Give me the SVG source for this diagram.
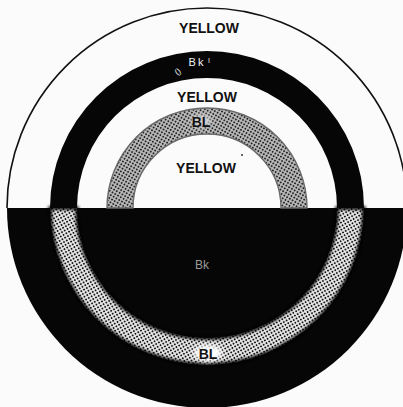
<svg xmlns="http://www.w3.org/2000/svg" width="403" height="407" viewBox="0 0 403 407">
  <defs>
    <pattern id="stipTop" width="3.2" height="3.2" patternUnits="userSpaceOnUse" patternTransform="rotate(30)">
      <rect width="3.2" height="3.2" fill="#bcbcbc"/>
      <circle cx="1.6" cy="1.6" r="1" fill="#222"/>
    </pattern>
    <pattern id="stipBot" width="3.2" height="3.2" patternUnits="userSpaceOnUse" patternTransform="rotate(-30)">
      <rect width="3.2" height="3.2" fill="#ececec"/>
      <circle cx="1.6" cy="1.6" r="1" fill="#141414"/>
    </pattern>
    <filter id="soft" x="-10%" y="-10%" width="120%" height="120%">
      <feGaussianBlur stdDeviation="1.8"/>
    </filter>
    <filter id="halo" x="-30%" y="-30%" width="160%" height="160%">
      <feGaussianBlur stdDeviation="2.5"/>
    </filter>
  </defs>
  <style>
    .lbl { font-family: "Liberation Sans", Arial, sans-serif; font-weight: bold; font-size: 14px; fill: #111; text-anchor: middle; }
    .blk { fill: #060606; }
    .wt { font-family: "Liberation Sans", Arial, sans-serif; fill: #f4f4f4; }
  </style>

  <rect width="403" height="407" fill="#fbfbfb"/>

  <g id="lower-half">
    <path class="blk" d="M7,208 A200,200 0 0 0 407,208 Z"/>
    <path d="M50,208 A157,157 0 0 0 364,208 L337,208 A130,130 0 0 1 77,208 Z" fill="url(#stipBot)"/>
    <path d="M50,208 A157,157 0 0 0 364,208 L337,208 A130,130 0 0 1 77,208 Z" fill="none" stroke="#060606" stroke-width="3.5" filter="url(#soft)"/>
    <ellipse cx="208" cy="353" rx="14" ry="8" fill="#ffffff" filter="url(#halo)"/>
  </g>

  <g id="upper-outer-yellow">
    <path d="M7,208 A200,200 0 0 1 407,208" fill="none" stroke="#111" stroke-width="1.6"/>
    <text class="lbl" x="209" y="33">YELLOW</text>
  </g>

  <g id="upper-black-ring">
    <path class="blk" d="M50,208 A157,157 0 0 1 364,208 L337,208 A130,130 0 0 0 77,208 Z"/>
    <text class="wt" x="197" y="66" font-size="11" text-anchor="middle" letter-spacing="2">Bk</text>
    <text class="wt" x="208" y="63" font-size="7">I</text>
    <text class="wt" x="178" y="74" font-size="8" text-anchor="middle" transform="rotate(-35 178 72)">()</text>
  </g>

  <g id="upper-middle-yellow">
    <text class="lbl" x="207" y="102">YELLOW</text>
  </g>

  <g id="upper-blue-ring">
    <path d="M107,208 A100,100 0 0 1 307,208 L281,208 A74,74 0 0 0 133,208 Z" fill="url(#stipTop)" stroke="#6a6a6a" stroke-width="1.4"/>
    <ellipse cx="201" cy="121" rx="10" ry="6" fill="#d6d6d6" filter="url(#halo)"/>
    <text class="lbl" x="201" y="127">BL</text>
  </g>

  <g id="upper-inner-yellow">
    <text class="lbl" x="206" y="173">YELLOW</text>
    <circle cx="242" cy="155" r="0.9" fill="#222"/>
  </g>

  <g id="lower-labels">
    <text x="202" y="269" font-family="'Liberation Sans', Arial, sans-serif" font-size="12" fill="#9a9a9a" text-anchor="middle">Bk</text>
    <text class="lbl" x="208" y="359">BL</text>
  </g>

  <g id="connectors"/>
</svg>
